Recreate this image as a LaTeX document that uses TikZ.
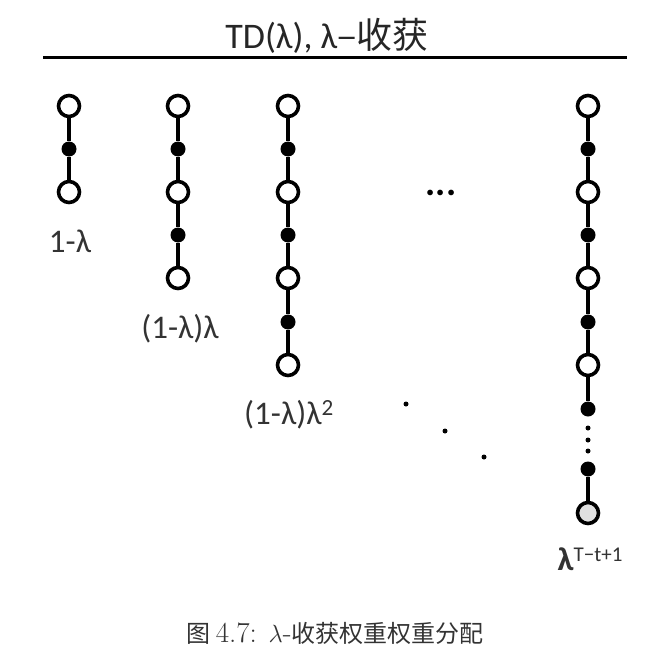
\documentclass[tikz,border=0pt]{standalone}
\usepackage{fontspec}
\setmainfont{Carlito}
\newfontfamily\cjk{Noto Sans CJK SC}
\newfontfamily\capfont{Latin Modern Roman}
\begin{document}
\begin{tikzpicture}[x=1pt,y=-1pt,
  open/.style={circle,draw=black,fill=white,line width=3.6pt,minimum size=21pt,inner sep=0pt},
  grey/.style={open,fill=black!12},
  full/.style={circle,fill=black,minimum size=15pt,inner sep=0pt},
  tiny/.style={circle,fill=black,minimum size=5pt,inner sep=0pt},
  link/.style={line width=3.2pt},
  lab/.style={font=\fontsize{33}{36}\selectfont,text=black!80}]
\useasboundingbox (0,0) rectangle (650,666);
\node[text=black!85] (title) at (327,36) {\fontsize{36}{40}\selectfont TD(λ), λ{\cjk –收获}};
\coordinate (hl) at (43,58);
\coordinate (hr) at (627,58);
\draw[line width=3pt] (hl) -- (hr);
% column 1
\node[open] (a1) at (69,106) {};
\node[full] (a2) at (69,149) {};
\node[open] (a3) at (69,192) {};
\draw[link] (a1) -- (a2) -- (a3);
\node[lab] (la) at (70,241) {1-λ};
% column 2
\node[open] (b1) at (178,106) {};
\node[full] (b2) at (178,149) {};
\node[open] (b3) at (178,192) {};
\node[full] (b4) at (178,235) {};
\node[open] (b5) at (178,278) {};
\draw[link] (b1) -- (b2) -- (b3) -- (b4) -- (b5);
\node[lab] (lb) at (180,329) {(1-λ)λ};
% column 3
\node[open] (c1) at (288,106) {};
\node[full] (c2) at (288,149) {};
\node[open] (c3) at (288,192) {};
\node[full] (c4) at (288,235) {};
\node[open] (c5) at (288,278) {};
\node[full] (c6) at (288,322) {};
\node[open] (c7) at (288,365) {};
\draw[link] (c1) -- (c2) -- (c3) -- (c4) -- (c5) -- (c6) -- (c7);
\node[lab] (lc) at (289,415) {(1-λ)λ\textsuperscript{2}};
% ellipsis
\node (ell) at (441,193) {\fontsize{38}{40}\selectfont\bfseries ...};
\node[tiny] (e1) at (406,404) {};
\node[tiny] (e2) at (445,431) {};
\node[tiny] (e3) at (484,457) {};
% last column
\node[open] (d1) at (588,106) {};
\node[full] (d2) at (588,149) {};
\node[open] (d3) at (588,192) {};
\node[full] (d4) at (588,235) {};
\node[open] (d5) at (588,278) {};
\node[full] (d6) at (588,322) {};
\node[open] (d7) at (588,365) {};
\node[full] (d8) at (588,409) {};
\node[tiny] (k1) at (588,428) {};
\node[tiny] (k2) at (588,440) {};
\node[tiny] (k3) at (588,451) {};
\node[full] (d9) at (588,469) {};
\node[grey] (d10) at (588,513) {};
\draw[link] (d1) -- (d2) -- (d3) -- (d4) -- (d5) -- (d6) -- (d7) -- (d8);
\draw[link] (d9) -- (d10);
\node[lab] (ld) at (590,559) {\textbf{λ}{\fontsize{21}{22}\selectfont\raisebox{9pt}{T−t+1}}};
% caption
\node[text=black!80] (cap) at (335,633) {\fontsize{24}{28}\selectfont{\cjk 图} {\fontsize{29}{30}\selectfont\capfont 4.7: $\lambda$-}{\cjk 收获权重权重分配}};
\end{tikzpicture}
\end{document}
